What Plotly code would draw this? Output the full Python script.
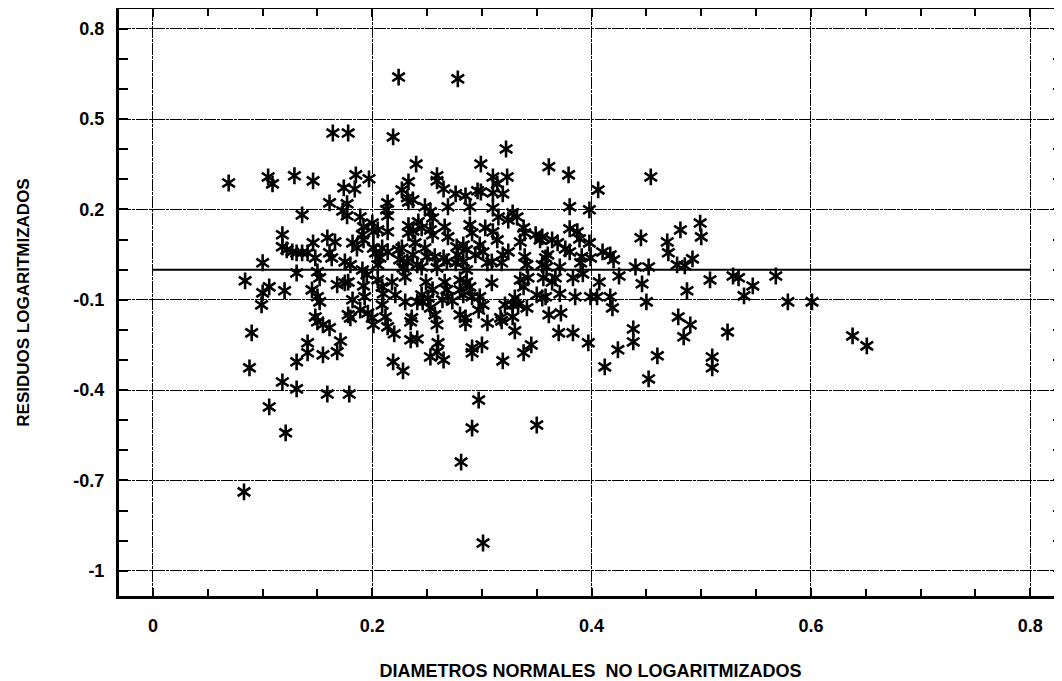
import plotly.graph_objects as go

# ---- data (diameter, log residual) ----
diam_a = [0.069, 0.084, 0.088, 0.083, 0.090, 0.100, 0.100, 0.106, 0.099, 0.105, 0.109, 0.106,
          0.118, 0.120, 0.121, 0.118, 0.118, 0.122, 0.127, 0.129, 0.131, 0.131, 0.131, 0.131]
resid_a = [0.288, -0.037, -0.326, -0.738, -0.210, 0.023, -0.077, -0.057, -0.117, 0.308, 0.285, -0.456,
           -0.373, -0.070, -0.542, 0.116, 0.076, 0.066, 0.059, 0.312, 0.056, -0.011, -0.306, -0.396]

diam_b = [0.136, 0.141, 0.136, 0.146, 0.146, 0.148, 0.145, 0.150, 0.152, 0.150, 0.152, 0.148,
          0.150, 0.155, 0.161, 0.141, 0.141, 0.155, 0.171, 0.168, 0.159, 0.179, 0.164, 0.178,
          0.185, 0.197, 0.174, 0.184, 0.161, 0.177, 0.173, 0.177, 0.159, 0.166, 0.161, 0.163,
          0.175, 0.180, 0.182, 0.186, 0.189, 0.192, 0.191, 0.192, 0.200, 0.201, 0.201, 0.203,
          0.191, 0.195, 0.168, 0.175, 0.178, 0.192, 0.193, 0.182, 0.178, 0.180, 0.189, 0.196,
          0.200, 0.201]
resid_b = [0.056, 0.056, 0.182, 0.295, 0.089, 0.039, -0.067, -0.090, -0.107, -0.007, -0.027, -0.157,
           -0.173, -0.183, -0.193, -0.243, -0.276, -0.283, -0.237, -0.273, -0.413, -0.413, 0.454, 0.454,
           0.315, 0.302, 0.272, 0.268, 0.222, 0.219, 0.195, 0.179, 0.106, 0.092, 0.056, 0.039,
           0.026, 0.016, 0.089, 0.072, 0.175, 0.142, 0.116, 0.099, 0.155, 0.126, 0.072, 0.056,
           -0.001, -0.017, -0.050, -0.044, -0.041, -0.054, -0.090, -0.100, -0.150, -0.160, -0.134, -0.144,
           -0.160, -0.183]

diam_c = [0.214, 0.219, 0.224, 0.278, 0.213, 0.214, 0.205, 0.214, 0.209, 0.214, 0.207, 0.205,
          0.205, 0.209, 0.210, 0.218, 0.221, 0.212, 0.214, 0.209, 0.220, 0.219, 0.228, 0.227,
          0.233, 0.232, 0.237, 0.233, 0.240, 0.248, 0.253, 0.255, 0.259, 0.259, 0.265, 0.269,
          0.276, 0.285, 0.233, 0.242, 0.245, 0.233, 0.237, 0.266, 0.253, 0.255, 0.269, 0.239,
          0.227, 0.224, 0.248, 0.250, 0.257, 0.277, 0.278, 0.265, 0.268, 0.225, 0.232, 0.241,
          0.245, 0.259, 0.276, 0.228, 0.237, 0.230, 0.249, 0.255, 0.266, 0.268, 0.269, 0.280,
          0.280, 0.245, 0.251, 0.230, 0.241, 0.246, 0.264, 0.273, 0.253, 0.257, 0.236, 0.259,
          0.280, 0.285, 0.235, 0.235, 0.241, 0.260, 0.253, 0.259, 0.265, 0.281, 0.285]
resid_c = [0.222, 0.441, 0.640, 0.634, 0.199, 0.179, 0.132, 0.126, 0.072, 0.059, 0.039, 0.016,
           -0.034, -0.057, -0.080, -0.041, -0.084, -0.157, -0.190, -0.117, -0.213, -0.306, -0.336, 0.265,
           0.292, 0.239, 0.232, 0.225, 0.351, 0.209, 0.192, 0.172, 0.312, 0.295, 0.268, 0.209,
           0.252, 0.245, 0.146, 0.159, 0.139, 0.122, 0.129, 0.142, 0.132, 0.116, 0.109, 0.089,
           0.072, 0.066, 0.072, 0.043, 0.043, 0.076, 0.049, 0.039, 0.026, 0.033, 0.026, 0.016,
           0.009, 0.006, 0.023, 0.006, 0.049, -0.024, -0.041, -0.067, -0.041, -0.067, -0.090, -0.034,
           -0.067, -0.084, -0.094, -0.107, -0.107, -0.107, -0.100, -0.104, -0.127, -0.150, -0.160, -0.183,
           -0.150, -0.160, -0.173, -0.233, -0.230, -0.243, -0.290, -0.273, -0.300, -0.639, -0.177]

diam_d = [0.289, 0.289, 0.291, 0.299, 0.310, 0.314, 0.323, 0.322, 0.296, 0.299, 0.310, 0.319,
          0.310, 0.315, 0.324, 0.328, 0.332, 0.303, 0.310, 0.314, 0.338, 0.339, 0.335, 0.349,
          0.353, 0.283, 0.286, 0.298, 0.301, 0.294, 0.283, 0.305, 0.309, 0.319, 0.324, 0.318,
          0.339, 0.341, 0.355, 0.358, 0.286, 0.286, 0.289, 0.309, 0.335, 0.342, 0.338, 0.356,
          0.291, 0.298, 0.283, 0.330, 0.333, 0.350, 0.355, 0.358, 0.321, 0.328, 0.301, 0.297,
          0.341, 0.317, 0.328, 0.305, 0.300, 0.318, 0.330, 0.319, 0.338, 0.345, 0.291, 0.291,
          0.297, 0.291, 0.350, 0.301, 0.361, 0.355, 0.360, 0.359, 0.361]
resid_d = [0.209, 0.149, 0.122, 0.351, 0.308, 0.285, 0.308, 0.401, 0.262, 0.258, 0.255, 0.252,
           0.205, 0.175, 0.165, 0.189, 0.175, 0.139, 0.126, 0.099, 0.139, 0.122, 0.092, 0.116,
           0.099, 0.082, 0.066, 0.082, 0.059, 0.049, 0.026, 0.023, 0.026, 0.049, 0.059, 0.023,
           0.043, 0.016, 0.016, 0.039, -0.001, -0.041, -0.057, -0.044, -0.034, -0.027, -0.057, -0.027,
           -0.090, -0.090, -0.084, -0.094, -0.117, -0.084, -0.094, -0.090, -0.117, -0.117, -0.117, -0.134,
           -0.127, -0.160, -0.157, -0.177, -0.250, -0.170, -0.203, -0.303, -0.276, -0.250, -0.260, -0.276,
           -0.433, -0.526, -0.516, -0.908, 0.342, 0.109, 0.049, 0.009, -0.150]

diam_e = [0.379, 0.406, 0.454, 0.380, 0.398, 0.380, 0.387, 0.389, 0.398, 0.364, 0.369, 0.376,
          0.380, 0.410, 0.417, 0.420, 0.391, 0.399, 0.390, 0.371, 0.392, 0.425, 0.364, 0.367,
          0.383, 0.407, 0.371, 0.385, 0.399, 0.405, 0.417, 0.419, 0.450, 0.372, 0.370, 0.383,
          0.397, 0.438, 0.438, 0.424, 0.412, 0.460, 0.452, 0.479, 0.490, 0.484, 0.510, 0.510,
          0.524, 0.499, 0.481, 0.500, 0.445, 0.469, 0.470, 0.492, 0.478, 0.485, 0.440, 0.452,
          0.446, 0.508, 0.487, 0.529, 0.534, 0.547, 0.539, 0.568, 0.579, 0.601, 0.638, 0.651]
resid_e = [0.315, 0.265, 0.308, 0.209, 0.199, 0.136, 0.126, 0.102, 0.089, 0.099, 0.089, 0.069,
           0.059, 0.059, 0.049, 0.033, 0.043, 0.039, 0.023, 0.009, -0.014, -0.021, -0.041, -0.027,
           -0.027, -0.041, -0.080, -0.090, -0.090, -0.090, -0.090, -0.127, -0.107, -0.144, -0.210, -0.210,
           -0.243, -0.197, -0.240, -0.266, -0.323, -0.286, -0.363, -0.157, -0.183, -0.223, -0.290, -0.326,
           -0.207, 0.155, 0.132, 0.109, 0.106, 0.092, 0.056, 0.036, 0.016, 0.013, 0.009, 0.009,
           -0.047, -0.034, -0.070, -0.021, -0.027, -0.054, -0.087, -0.021, -0.107, -0.107, -0.220, -0.253]

# zero reference line
zero_x = [0.0, 0.8]
zero_y = [0.0, 0.0]

# axis ticks
x_tickvals = [0, 0.2, 0.4, 0.6, 0.8]
x_ticktext = ["0", "0.2", "0.4", "0.6", "0.8"]
y_tickvals = [-1.0, -0.7, -0.4, -0.1, 0.2, 0.5, 0.8]
y_ticktext = ["-1", "-0.7", "-0.4", "-0.1", "0.2", "0.5", "0.8"]

diam = diam_a + diam_b + diam_c + diam_d + diam_e
resid = resid_a + resid_b + resid_c + resid_d + resid_e

FONT = "Liberation Sans, Arial, Helvetica, sans-serif"

fig = go.Figure()
fig.add_trace(go.Scatter(x=zero_x, y=zero_y, mode="lines",
                         line=dict(color="black", width=2), hoverinfo="skip"))
# six-pointed asterisk: a "Y" and an inverted "Y" drawn on the same points
for sym in ("y-up-open", "y-down-open"):
    fig.add_trace(go.Scatter(
        x=diam, y=resid, mode="markers",
        marker=dict(symbol=sym, size=10.5, color="black",
                    line=dict(color="black", width=2.6)),
        name="Residuos"))

axis_common = dict(
    showline=True, linecolor="black", linewidth=3, mirror="ticks",
    ticks="inside", ticklen=8, tickwidth=2, tickcolor="black",
    showgrid=True, gridcolor="black", gridwidth=1.2, griddash="12px,1px,3px,1px",
    zeroline=False,
    tickfont=dict(family=FONT, size=18, color="black", weight="bold"),
)

# the page body keeps an 8px margin, so the figure is sized to end at the window edge
fig.update_layout(
    width=1054, height=673,
    margin=dict(l=111, r=0, t=1, b=85),
    paper_bgcolor="white", plot_bgcolor="white",
    showlegend=False,
    xaxis=dict(
        range=[-0.031, 0.829], tickmode="array",
        tickvals=x_tickvals, ticktext=x_ticktext,
        minor=dict(tickmode="linear", tick0=0, dtick=0.05, ticks="inside",
                   ticklen=7, tickwidth=2, tickcolor="black", showgrid=False),
        ticklabelstandoff=11,
        title=dict(text="DIAMETROS NORMALES  NO LOGARITMIZADOS", standoff=31,
                   font=dict(family=FONT, size=18, color="black", weight="bold")),
        automargin=False,
        **axis_common,
    ),
    yaxis=dict(
        range=[-1.084, 0.866], tickmode="array",
        tickvals=y_tickvals, ticktext=y_ticktext,
        minor=dict(tickmode="linear", tick0=0, dtick=0.1, ticks="inside",
                   ticklen=9, tickwidth=2, tickcolor="black", showgrid=False),
        ticklabelstandoff=8,
        title=dict(text="RESIDUOS LOGARITMIZADOS", standoff=40,
                   font=dict(family=FONT, size=17, color="black", weight="bold")),
        automargin=False,
        **axis_common,
    ),
)

fig.write_html("out.html")
